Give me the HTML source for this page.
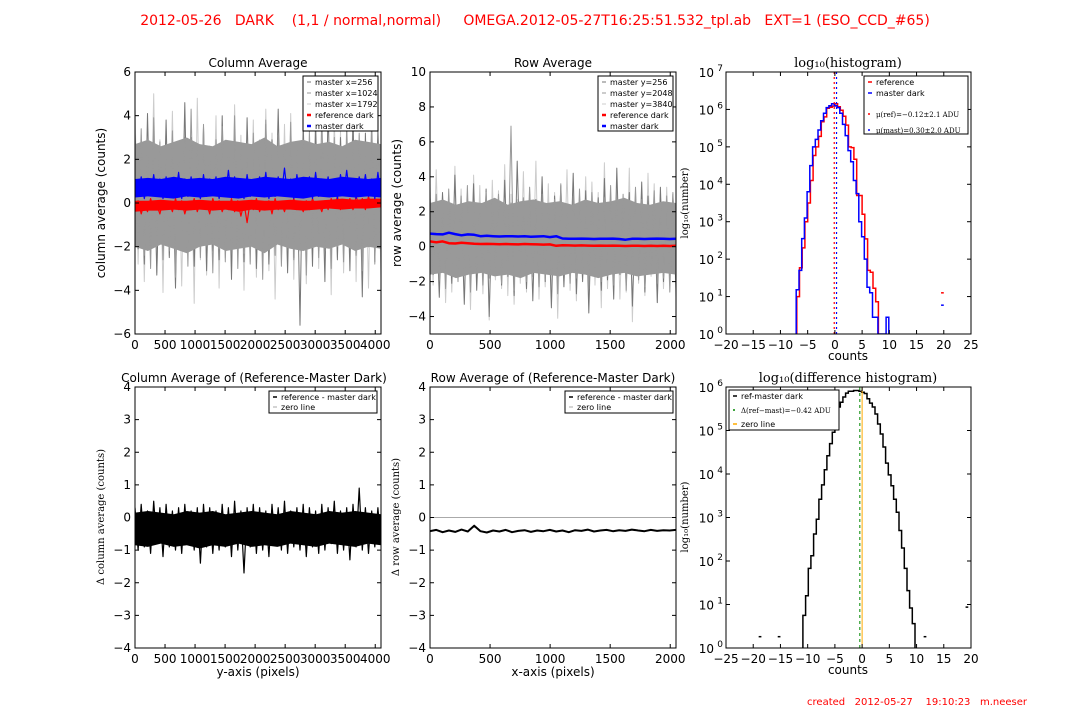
<!DOCTYPE html>
<html><head><meta charset="utf-8"><style>
body{margin:0;background:#fff;}
svg{display:block;font-family:"DejaVu Sans","Liberation Sans",sans-serif;}
.tk{font-size:12px;fill:#000}
.lg{font-size:8px;fill:#000}
.srf{font-family:"DejaVu Serif","Liberation Serif",serif}
</style></head><body>
<svg id="fig" width="1080" height="720" viewBox="0 0 1080 720" xmlns="http://www.w3.org/2000/svg">
<rect width="1080" height="720" fill="#fff"/>
<text x="535" y="25" text-anchor="middle" font-size="14" fill="#f00" style="white-space:pre" xml:space="preserve">2012-05-26   DARK    (1,1 / normal,normal)     OMEGA.2012-05-27T16:25:51.532_tpl.ab   EXT=1 (ESO_CCD_#65)</text>
<text x="1027" y="705" text-anchor="end" font-size="10" fill="#f00" style="white-space:pre" xml:space="preserve">created   2012-05-27    19:10:23   m.neeser</text>
</svg>
<script>
// ---------- data ----------
const colX1 = [3.2,-2.1,2.4,-2.8,4.1,-1.6,2.9,-3.3,2.2,-2.0,3.8,-2.5,1.9,-3.9,2.7,-1.8,4.6,-2.3,3.0,-2.9,2.1,-1.7,3.5,-3.1,2.6,-2.2,1.8,-2.6,4.0,-1.9,2.8,-3.5,3.3,-2.0,2.3,-2.7,3.9,-1.5,2.5,-3.0,2.0,-2.4,3.6,-2.8,2.9,-1.8,4.3,-2.1,2.4,-3.2,3.1,-2.5,2.2,-5.6,3.7,-1.9,2.6,-2.9,3.4,-2.2,2.0,-3.6,4.4,-2.0,2.7,-2.6,3.0,-1.7,2.3,-3.1,3.8,-2.3,2.5,-4.3,3.2,-2.0,2.9,-2.7,3.5,-1.8];
const colX2 = [2.6,-1.9,3.4,-2.4,2.2,-3.0,3.9,-1.7,2.8,-2.6,2.1,-2.2,3.3,-3.4,2.5,-1.6,3.0,-2.9,4.3,-2.0,2.4,-2.5,3.6,-1.8,2.0,-3.2,2.9,-2.1,3.5,-2.7,2.3,-1.9,4.0,-3.0,2.7,-2.3,2.1,-2.8,3.2,-1.7,2.6,-3.5,3.8,-2.0,2.2,-2.4,3.1,-2.9,2.5,-1.8,3.7,-2.6,2.4,-2.1,2.8,-3.3,3.3,-1.9,2.0,-2.5,4.1,-2.2,2.6,-3.0,3.0,-2.0,2.3,-2.7,3.6,-1.6,2.7,-2.4,3.2,-3.1,2.1,-2.0,3.9,-2.8,2.5,-2.3];
const colX3 = [4.4,-2.8,3.1,-3.6,2.5,-2.0,5.0,-3.2,2.9,-4.1,3.4,-2.4,4.2,-2.9,2.6,-3.8,3.7,-2.2,2.8,-4.6,4.8,-2.6,3.0,-3.3,2.4,-2.1,4.0,-3.9,3.3,-2.5,2.7,-3.0,4.5,-2.3,3.1,-4.0,2.6,-2.7,3.8,-3.4,2.9,-2.0,4.3,-3.1,3.2,-4.4,2.5,-2.6,3.6,-2.9,4.1,-3.5,2.8,-2.2,3.4,-3.7,2.6,-2.4,4.6,-3.0,3.0,-2.8,2.7,-4.2,3.9,-2.5,3.3,-3.2,2.4,-2.1,4.2,-3.6,3.1,-2.7,2.8,-3.9,3.5,-2.3,2.9,-3.4];
const colGrayUpper = [2.7,2.9,2.6,2.8,3.0,2.7,2.6,2.9,2.8,2.7,3.0,2.6,2.8,2.9,2.7,2.8,2.6,2.9,2.8,2.7];
const colGrayLower = [-2.0,-2.2,-1.9,-2.1,-2.3,-2.0,-1.9,-2.2,-2.1,-2.0,-2.3,-1.9,-2.1,-2.2,-2.0,-2.1,-1.9,-2.2,-2.0,-2.1];
const colMaster = [1.1,0.3,1.2,0.2,1.0,0.4,1.3,0.3,1.1,0.2,1.2,0.4,1.0,0.3,1.4,0.2,1.1,0.3,1.2,0.4,1.0,0.2,1.3,0.3,1.1,0.4,1.2,0.2,1.0,0.3,1.5,0.3,1.2,0.4,1.1,0.2,1.3,0.3,1.0,0.4,1.2,0.3,1.4,0.2,1.1,0.3,1.2,0.4,1.6,0.3,1.1,0.2,1.3,0.4,1.0,0.3,1.2,0.2,1.4,0.3,1.1,0.4,1.2,0.3,1.0,0.2,1.3,0.4,1.5,0.3,1.1,0.2,1.2,0.4,1.3,0.3,1.1,0.2,1.4,0.3];
const colMasterUpper = [1.1,1.15,1.1,1.2,1.1,1.15,1.1,1.2,1.15,1.1,1.2,1.15,1.1,1.2,1.15,1.1,1.2,1.15,1.1,1.15];
const colMasterLower = [0.25,0.3,0.25,0.2,0.3,0.25,0.3,0.25,0.2,0.3,0.25,0.3,0.25,0.2,0.3,0.25,0.3,0.25,0.3,0.25];
const colRef = [-0.3,0.1,-0.5,0.0,-0.4,0.2,-0.3,-0.1,-0.5,0.1,-0.2,0.0,-0.4,0.2,-0.3,0.1,-0.5,0.0,-0.3,0.2,-0.4,0.1,-0.2,0.0,-0.5,0.2,-0.3,0.1,-0.4,0.0,-0.3,0.2,-0.4,0.1,-0.6,0.0,-0.9,0.1,-0.3,0.2,-0.4,0.0,-0.2,0.1,-0.5,0.2,-0.3,0.0,-0.4,0.1,-0.2,0.2,-0.3,0.0,-0.4,0.1,-0.3,0.2,-0.2,0.0,-0.4,0.1,-0.3,0.2,-0.2,0.3,-0.3,0.1,-0.2,0.2,-0.3,0.3,-0.1,0.2,-0.3,0.3,-0.2,0.2,-0.1,0.2];
const colRefUpper = [0.1,0.1,0.15,0.1,0.1,0.15,0.1,0.1,0.1,0.15,0.1,0.1,0.15,0.1,0.1,0.15,0.2,0.15,0.2,0.2];
const colRefLower = [-0.4,-0.35,-0.35,-0.3,-0.35,-0.3,-0.35,-0.3,-0.4,-0.3,-0.35,-0.3,-0.3,-0.35,-0.3,-0.25,-0.3,-0.25,-0.25,-0.2];
const rowY1 = [2.8,-1.6,2.0,-2.9,3.1,-1.2,2.4,-2.1,4.1,-1.8,2.2,-3.3,2.9,-1.4,3.6,-2.5,2.1,-1.9,3.3,-4.0,2.6,-1.5,2.0,-2.2,3.8,-1.7,2.5,-2.8,4.9,-1.3,2.3,-2.4,3.0,-3.1,2.7,-1.6,4.0,-2.0,2.2,-3.5,2.9,-1.8,3.5,-2.3,2.4,-1.5,4.2,-2.7,2.1,-2.0,3.2,-3.8,2.6,-1.4,2.8,-2.5,3.9,-1.9,2.3,-3.0,4.5,-1.6,2.5,-2.2,3.1,-3.4,2.2,-1.7,3.7,-2.6,2.9,-1.5,2.4,-3.2,3.4,-2.0,2.6,-1.8,3.0,-2.4];
const rowY2 = [2.2,-1.3,3.0,-1.9,2.5,-2.4,3.3,-1.1,2.1,-2.0,2.9,-1.6,3.5,-2.6,2.4,-1.4,2.0,-2.2,3.1,-1.8,2.6,-1.2,3.0,-2.1,2.3,-1.7,6.9,-2.5,2.5,-1.5,2.8,-2.0,3.4,-1.3,2.2,-2.3,3.0,-1.9,2.4,-1.6,2.7,-2.7,3.6,-1.4,2.1,-2.1,2.9,-1.8,3.3,-1.5,2.5,-2.4,3.1,-1.2,2.3,-2.0,2.8,-1.7,3.5,-2.2,2.6,-1.6,3.0,-2.5,2.2,-1.4,3.4,-1.9,2.7,-2.3,2.4,-1.5,3.2,-2.1,2.5,-1.8,2.9,-2.6,3.1,-1.6];
const rowY3 = [3.6,-2.2,4.4,-1.8,3.0,-3.2,2.6,-2.6,4.6,-1.5,3.3,-2.9,2.8,-3.6,4.1,-2.0,3.5,-2.7,2.9,-4.2,3.8,-1.9,3.2,-2.4,4.7,-2.8,3.0,-3.3,2.7,-2.1,4.3,-2.6,3.4,-1.7,4.9,-3.0,2.8,-2.3,3.6,-2.9,3.1,-4.1,2.6,-2.0,4.4,-2.5,3.3,-3.1,2.9,-1.8,4.0,-2.7,3.7,-2.2,3.1,-3.5,4.8,-2.4,3.0,-1.9,3.5,-3.0,2.7,-2.6,4.5,-4.3,3.2,-2.1,2.9,-2.8,4.2,-1.7,3.6,-3.2,3.0,-2.4,3.4,-2.0,2.8,-2.9];
const rowGrayUpper = [2.5,2.7,2.4,2.6,2.5,2.8,2.4,2.6,2.7,2.5,2.6,2.4,2.7,2.5,2.6,2.8,2.5,2.4,2.6,2.5];
const rowGrayLower = [-1.6,-1.5,-1.8,-1.6,-1.5,-1.7,-1.6,-1.8,-1.5,-1.6,-1.7,-1.5,-1.6,-1.8,-1.6,-1.5,-1.7,-1.6,-1.5,-1.6];
const rowMaster = [0.75,0.72,0.7,0.8,0.72,0.65,0.7,0.68,0.6,0.62,0.6,0.58,0.6,0.6,0.58,0.6,0.57,0.58,0.6,0.55,0.6,0.47,0.45,0.45,0.46,0.45,0.44,0.45,0.45,0.46,0.44,0.4,0.45,0.45,0.44,0.45,0.46,0.45,0.44,0.45];
const rowRef = [0.3,0.25,0.3,0.2,0.18,0.22,0.2,0.17,0.15,0.16,0.15,0.14,0.15,0.14,0.13,0.15,0.14,0.13,0.12,0.13,0.05,0.08,0.07,0.06,0.07,0.06,0.05,0.06,0.05,0.06,0.05,0.04,0.05,0.05,0.04,0.05,0.04,0.05,0.04,0.05];
const colDiff = [0.3,-1.0,0.4,-0.9,0.2,-1.1,0.5,-0.8,0.3,-1.2,0.4,-0.9,0.2,-1.0,0.3,-1.1,0.4,-0.8,0.2,-1.0,0.3,-1.4,0.4,-0.9,0.3,-1.1,0.2,-1.0,0.4,-0.9,0.3,-1.2,0.5,-1.0,0.2,-1.7,0.3,-0.9,0.4,-1.1,0.3,-1.0,0.2,-1.2,0.4,-0.8,0.3,-1.0,0.5,-1.1,0.2,-0.9,0.3,-1.0,0.4,-1.2,0.3,-0.9,0.2,-1.1,0.4,-1.0,0.3,-0.8,0.5,-1.1,0.2,-1.0,0.3,-1.3,0.4,-0.9,0.9,-1.0,0.3,-1.1,0.2,-0.9,0.3,-0.8];
const colDiffUpper = [0.15,0.2,0.15,0.1,0.2,0.15,0.2,0.1,0.15,0.2,0.15,0.1,0.2,0.15,0.1,0.2,0.15,0.2,0.15,0.1];
const colDiffLower = [-0.85,-0.9,-0.8,-0.9,-0.85,-0.95,-0.85,-0.9,-0.8,-0.9,-0.85,-0.9,-0.8,-0.85,-0.9,-0.8,-0.85,-0.9,-0.8,-0.85];
const rowDiff = [-0.42,-0.38,-0.45,-0.4,-0.44,-0.37,-0.43,-0.25,-0.42,-0.46,-0.4,-0.43,-0.38,-0.45,-0.41,-0.39,-0.44,-0.4,-0.42,-0.38,-0.43,-0.4,-0.45,-0.39,-0.41,-0.37,-0.43,-0.4,-0.38,-0.42,-0.39,-0.41,-0.37,-0.4,-0.42,-0.38,-0.41,-0.39,-0.4,-0.38];
// histograms: log10(counts) per 0.5-ADU bin
const histRefStart = -7.0;
const histRefLog = [1.0,1.77,2.3,3.0,3.5,4.1,4.77,5.0,5.28,5.67,5.8,6.03,6.06,6.09,6.15,6.07,5.98,5.82,5.58,5.0,4.98,4.67,3.7,3.7,3.2,2.54,1.7,1.65,1.22,0.86];
const histMastStart = -7.1;
const histMastLog = [1.18,1.7,2.55,3.1,3.8,4.5,5.0,5.2,5.45,5.7,5.9,6.05,6.1,6.15,6.1,6.05,5.9,5.6,5.3,4.9,4.6,4.1,3.75,3.0,2.6,2.0,1.25,1.1,0.45,0.45,0,0,0,0.45];
const histRefOutlier = [19.5, 1.1];
const histMastOutlier = [19.5, 0.77];
const meanRef = -0.12, meanMast = 0.30;
const diffStart = -10.87, diffWidth = 0.49;
const diffLog = [0.75,1.2,1.83,2.12,2.62,2.96,3.42,3.75,4.1,4.42,4.7,4.96,5.3,5.54,5.65,5.77,5.86,5.9,5.9,5.92,5.92,5.9,5.88,5.85,5.73,5.63,5.54,5.38,5.15,4.92,4.62,4.25,3.98,3.73,3.42,3.12,2.7,2.3,1.83,1.32,0.92,0.56];
const diffOutX = [-19, -15.5, 11.3, 19];
const diffOutY = [0.26, 0.26, 0.26, 0.94];
const meanDiff = -0.42;

// ---------- drawing ----------
const NS = "http://www.w3.org/2000/svg";
const fig = document.getElementById('fig');
function mk(tag, attrs, parent){const e=document.createElementNS(NS,tag);for(const k in attrs)e.setAttribute(k,attrs[k]);(parent||fig).appendChild(e);return e;}
function axes(x0,x1,y0,y1,xd,yd){return {x0,x1,y0,y1,sx:v=>x0+(v-xd[0])/(xd[1]-xd[0])*(x1-x0),sy:v=>y1-(v-yd[0])/(yd[1]-yd[0])*(y1-y0)};}
function clipFor(a,id){const d=mk('defs',{});const c=mk('clipPath',{id},d);mk('rect',{x:a.x0,y:a.y0,width:a.x1-a.x0,height:a.y1-a.y0},c);const g=mk('g',{'clip-path':`url(#${id})`});return g;}
function frame(a,name,xt,yt,logY){
  const g=mk('g',{});
  
  
  mk('rect',{x:a.x0,y:a.y0,width:a.x1-a.x0,height:a.y1-a.y0,fill:'none',stroke:'#000','stroke-width':1},g);
  xt.forEach(v=>{const x=a.sx(v);
    mk('line',{x1:x,x2:x,y1:a.y1,y2:a.y1-4,stroke:'#000'},g);
    mk('line',{x1:x,x2:x,y1:a.y0,y2:a.y0+4,stroke:'#000'},g);
    const t=mk('text',{x:x,y:a.y1+15,'text-anchor':'middle',class:'tk'},g);t.textContent=String(v).replace('-','\u2212');});
  yt.forEach(v=>{const y=a.sy(v);
    mk('line',{x1:a.x0,x2:a.x0+4,y1:y,y2:y,stroke:'#000'},g);
    mk('line',{x1:a.x1,x2:a.x1-4,y1:y,y2:y,stroke:'#000'},g);
    if(logY){const t=mk('text',{x:a.x0-12,y:y+5,'text-anchor':'end',class:'tk'},g);t.textContent='10';
      const s=mk('text',{x:a.x0-3,y:y-1,'text-anchor':'end','font-size':'9'},g);s.textContent=String(v);}
    else{const t=mk('text',{x:a.x0-4,y:y+4,'text-anchor':'end',class:'tk'},g);t.textContent=String(v).replace('-','\u2212');}
  });
}
function line(g,a,vals,xmax,color,w,name){
  const n=vals.length;let d='';
  vals.forEach((v,i)=>{d+=(i?'L':'M')+a.sx(i/(n-1)*xmax).toFixed(1)+','+a.sy(v).toFixed(1);});
  const p=mk('path',{d,fill:'none',stroke:color,'stroke-width':w,'stroke-linejoin':'round'},g);
  
  
}
function band(g,a,up,lo,xmax,color,name){
  const n=up.length;let d='';
  up.forEach((v,i)=>{d+=(i?'L':'M')+a.sx(i/(n-1)*xmax).toFixed(1)+','+a.sy(v).toFixed(1);});
  for(let i=n-1;i>=0;i--){d+='L'+a.sx(i/(n-1)*xmax).toFixed(1)+','+a.sy(lo[i]).toFixed(1);}
  const p=mk('path',{d:d+'Z',fill:color,stroke:'none'},g);
  
  
}
function steps(g,a,start,width,vals,color,name){
  let d='M'+a.sx(start).toFixed(1)+','+a.sy(0).toFixed(1);
  vals.forEach((v,i)=>{const xl=a.sx(start+i*width),xr=a.sx(start+(i+1)*width),y=a.sy(v);d+='L'+xl.toFixed(1)+','+y.toFixed(1)+'L'+xr.toFixed(1)+','+y.toFixed(1);});
  d+='L'+a.sx(start+vals.length*width).toFixed(1)+','+a.sy(0).toFixed(1);
  const p=mk('path',{d,fill:'none',stroke:color,'stroke-width':1.5},g);
  
  
}
function txt(x,y,s,attrs,name){const t=mk('text',Object.assign({x,y},attrs||{}));t.textContent=s;
  
  return t;}
function legend(x,y,w,h,items,name){
  const g=mk('g',{});
  
  
  mk('rect',{x,y,width:w,height:h,fill:'#fff',stroke:'#000'},g);
  items.forEach((it,i)=>{const yy=y+6+i*it[3];
    mk('line',{x1:x+4,x2:x+8,y1:yy,y2:yy,stroke:it[1],'stroke-width':it[2]||1.5,'stroke-dasharray':it[4]||''},g);
    const t=mk('text',{x:x+12,y:yy+3,class:'lg'+(it[5]?' srf':''),style:it[5]?'font-size:7px':''},g);t.textContent=it[0];});
}
const rng=(a,b,s)=>{const r=[];for(let v=a;v<=b+1e-9;v+=s)r.push(Math.round(v*100)/100);return r;};

// Panel 1
const A1=axes(135,381,72,334,[0,4096],[-6,6]);
let g=clipFor(A1,'c1');
line(g,A1,colX3,4096,'#ccc',1,'master-x1792-line');
line(g,A1,colX1,4096,'#777',1,'master-x256-line');
band(g,A1,colGrayUpper,colGrayLower,4096,'#999','master-columns-band');
line(g,A1,colX2,4096,'#999',1,'master-x1024-line');
band(g,A1,colRefUpper,colRefLower,4096,'#f00','reference-dark-column-band');
line(g,A1,colRef,4096,'#f00',1.2,'reference-dark-column-line');
band(g,A1,colMasterUpper,colMasterLower,4096,'#00f','master-dark-column-band');
line(g,A1,colMaster,4096,'#00f',1.2,'master-dark-column-line');
frame(A1,'column-average',rng(0,4000,500),rng(-6,6,2));
txt(258,67,'Column Average',{'text-anchor':'middle','font-size':12},'column-average-title');
txt(105,203,'column average (counts)',{'text-anchor':'middle','font-size':12,transform:'rotate(-90 105 203)'},'column-average-y-label');
legend(303,76,75,55,[['master x=256','#777',1,11],['master x=1024','#999',1,11],['master x=1792','#ccc',1,11],['reference dark','#f00',2.5,11],['master dark','#00f',2.5,11]],'column-average-legend');

// Panel 2
const A2=axes(430,676,72,334,[0,2048],[-5,10]);
g=clipFor(A2,'c2');
line(g,A2,rowY3,2048,'#ccc',1,'master-y3840-line');
line(g,A2,rowY1,2048,'#777',1,'master-y256-line');
band(g,A2,rowGrayUpper,rowGrayLower,2048,'#999','master-rows-band');
line(g,A2,rowY2,2048,'#999',1,'master-y2048-line');
line(g,A2,rowRef,2048,'#f00',2.5,'reference-dark-row-line');
line(g,A2,rowMaster,2048,'#00f',2.5,'master-dark-row-line');
frame(A2,'row-average',rng(0,2000,500),rng(-4,10,2));
txt(553,67,'Row Average',{'text-anchor':'middle','font-size':12},'row-average-title');
txt(401,203,'row average (counts)',{'text-anchor':'middle','font-size':12,transform:'rotate(-90 401 203)'},'row-average-y-label');
legend(598,76,75,55,[['master y=256','#777',1,11],['master y=2048','#999',1,11],['master y=3840','#ccc',1,11],['reference dark','#f00',2.5,11],['master dark','#00f',2.5,11]],'row-average-legend');

// Panel 3
const A3=axes(726,971,72,334,[-20,25],[0,7]);
g=clipFor(A3,'c3');
steps(g,A3,histRefStart,0.5,histRefLog,'#f00','reference-histogram');
steps(g,A3,histMastStart,0.5,histMastLog,'#00f','master-histogram');
mk('line',{x1:A3.sx(histRefOutlier[0]),x2:A3.sx(histRefOutlier[0]+0.5),y1:A3.sy(histRefOutlier[1]),y2:A3.sy(histRefOutlier[1]),stroke:'#f00','stroke-width':1.5},g);
mk('line',{x1:A3.sx(histMastOutlier[0]),x2:A3.sx(histMastOutlier[0]+0.5),y1:A3.sy(histMastOutlier[1]),y2:A3.sy(histMastOutlier[1]),stroke:'#00f','stroke-width':1.5},g);
mk('line',{x1:A3.sx(meanRef),x2:A3.sx(meanRef),y1:A3.y0,y2:A3.y1,stroke:'#f00','stroke-width':1.2,'stroke-dasharray':'2,3'},g);
mk('line',{x1:A3.sx(meanMast),x2:A3.sx(meanMast),y1:A3.y0,y2:A3.y1,stroke:'#00f','stroke-width':1.2,'stroke-dasharray':'2,3'},g);
frame(A3,'histogram',rng(-20,25,5),rng(0,7,1),true);
txt(848,67,'log\u2081\u2080(histogram)',{'text-anchor':'middle','font-size':13,class:'srf'},'histogram-title');
txt(848,360,'counts',{'text-anchor':'middle','font-size':12},'histogram-x-label');
txt(688,203,'log\u2081\u2080(number)',{'text-anchor':'middle','font-size':10,class:'srf',transform:'rotate(-90 688 203)'},'histogram-y-label');
legend(864,76,104,58,[['reference','#f00',1.5,11],['master dark','#00f',1.5,11],['\u03bc(ref)=\u22120.12\u00b12.1 ADU','#f00',1.5,16,'2,2',1],['\u03bc(mast)=0.30\u00b12.0 ADU','#00f',1.5,16,'2,2',1]],'histogram-legend');

// Panel 4
const A4=axes(135,381,387,648,[0,4096],[-4,4]);
g=clipFor(A4,'c4');
mk('line',{x1:A4.x0,x2:A4.x1,y1:A4.sy(0),y2:A4.sy(0),stroke:'#aaa'},g);
band(g,A4,colDiffUpper,colDiffLower,4096,'#000','column-difference-band');
line(g,A4,colDiff,4096,'#000',1.2,'column-difference-line');
frame(A4,'column-difference',rng(0,4000,500),rng(-4,4,1));
txt(254,382,'Column Average of (Reference-Master Dark)',{'text-anchor':'middle','font-size':12},'column-difference-title');
txt(258,676,'y-axis (pixels)',{'text-anchor':'middle','font-size':12},'column-difference-x-label');
txt(104,517,'\u0394 column average (counts)',{'text-anchor':'middle','font-size':10,class:'srf',transform:'rotate(-90 104 517)'},'column-difference-y-label');
legend(269,391,108,22,[['reference - master dark','#000',1.5,10],['zero line','#aaa',1,10]],'column-difference-legend');

// Panel 5
const A5=axes(430,676,387,648,[0,2048],[-4,4]);
g=clipFor(A5,'c5');
mk('line',{x1:A5.x0,x2:A5.x1,y1:A5.sy(0),y2:A5.sy(0),stroke:'#aaa'},g);
line(g,A5,rowDiff,2048,'#000',2,'row-difference-line');
frame(A5,'row-difference',rng(0,2000,500),rng(-4,4,1));
txt(553,382,'Row Average of (Reference-Master Dark)',{'text-anchor':'middle','font-size':12},'row-difference-title');
txt(553,676,'x-axis (pixels)',{'text-anchor':'middle','font-size':12},'row-difference-x-label');
txt(399,517,'\u0394 row average (counts)',{'text-anchor':'middle','font-size':10,class:'srf',transform:'rotate(-90 399 517)'},'row-difference-y-label');
legend(565,391,108,22,[['reference - master dark','#000',1.5,10],['zero line','#aaa',1,10]],'row-difference-legend');

// Panel 6
const A6=axes(726,971,387,648,[-25,20],[0,6]);
g=clipFor(A6,'c6');
steps(g,A6,diffStart,diffWidth,diffLog,'#000','difference-histogram');
diffOutX.forEach((v,i)=>{const l=mk('line',{x1:A6.sx(v),x2:A6.sx(v+0.5),y1:A6.sy(diffOutY[i]),y2:A6.sy(diffOutY[i]),stroke:'#000','stroke-width':1.5},g);
  
  });
mk('line',{x1:A6.sx(meanDiff),x2:A6.sx(meanDiff),y1:A6.y0,y2:A6.y1,stroke:'#080','stroke-width':1,'stroke-dasharray':'3,3'},g);
mk('line',{x1:A6.sx(0),x2:A6.sx(0),y1:A6.y0,y2:A6.y1,stroke:'#fa0','stroke-width':1},g);
frame(A6,'difference-histogram',rng(-25,20,5),rng(0,6,1),true);
txt(848,382,'log\u2081\u2080(difference histogram)',{'text-anchor':'middle','font-size':13,class:'srf'},'difference-histogram-title');
txt(848,674,'counts',{'text-anchor':'middle','font-size':12},'difference-histogram-x-label');
txt(688,517,'log\u2081\u2080(number)',{'text-anchor':'middle','font-size':10,class:'srf',transform:'rotate(-90 688 517)'},'difference-histogram-y-label');
legend(729,390,110,40,[['ref-master dark','#000',1.5,14],['\u0394(ref\u2212mast)=\u22120.42 ADU','#080',1.5,14,'2,2',1],['zero line','#fa0',1.5,14]],'difference-histogram-legend');
</script>
</body></html>
